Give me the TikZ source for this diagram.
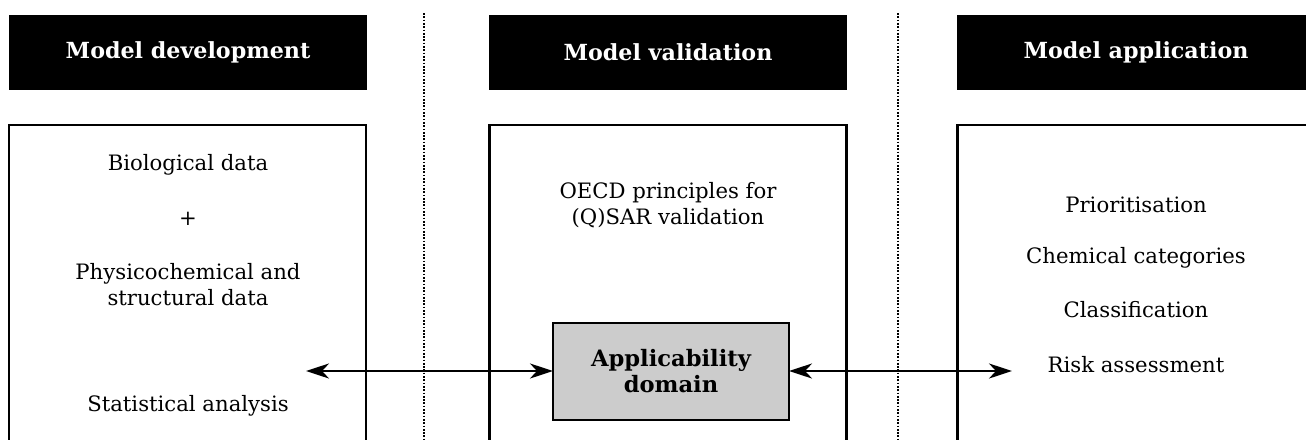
\documentclass[tikz,border=0pt]{standalone}
\usepackage{fontspec}
\setmainfont{DejaVu Serif}
\usetikzlibrary{arrows.meta}

\begin{document}
\begin{tikzpicture}[x=0.5pt,y=-0.5pt,
  txt/.style={font=\fontsize{10.6}{13}\selectfont, align=center, inner sep=0pt},
  header/.style={fill=black, text=white, font=\fontsize{11.1}{13}\selectfont\bfseries,
    minimum width=179pt, minimum height=37.5pt, inner sep=0pt, outer sep=0pt},
  panel/.style={draw=black, line width=1.3pt, minimum width=178.5pt, minimum height=180pt,
    inner sep=0pt, outer sep=0pt, anchor=north},
  domainbox/.style={draw=black, line width=1.3pt, fill=gray!40, align=center,
    font=\fontsize{11.3}{13}\selectfont\bfseries, minimum width=118pt, minimum height=48.5pt,
    inner sep=0pt, outer sep=0pt},
  divider/.style={line width=1pt, line cap=butt, dash pattern=on 0.85pt off 0.8pt},
  link/.style={line width=1.3pt, {Stealth[length=11.5pt,width=7.5pt,inset=3.5pt]}-{Stealth[length=11.5pt,width=7.5pt,inset=3.5pt]}}
]
\useasboundingbox (0,0) rectangle (1306,439);
\clip (0,0) rectangle (1306,439);

% column dividers
\draw[divider] (424,13) -- (424,445);
\draw[divider] (898,13) -- (898,445);

% column headers
\node[header] (hdev) at (188,52.5) {Model development};
\node[header] (hval) at (668,52.5) {Model validation};
\node[header] (happ) at (1136,52.5) {Model application};

% column panels (open at the bottom edge)
\node[panel] (pdev) at (187.5,125) {};
\node[panel] (pval) at (668,125) {};
\node[panel] (papp) at (1136,125) {};

% development column
\node[txt] (bio)  at (188,165) {Biological data};
\node[txt] (plus) at (188,219) {+};
\node[txt] (phys) at (188,285) {Physicochemical and\\structural data};
\node[txt] (stat) at (188,406) {Statistical analysis};

% validation column
\node[txt] (oecd) at (668,205) {OECD principles for\\(Q)SAR validation};
\node[domainbox] (ad) at (671,371.5) {Applicability\\domain};

% application column
\node[txt] (prio)  at (1136,205) {Prioritisation};
\node[txt] (chem)  at (1136,258) {Chemical categories};
\node[txt] (clas)  at (1136,310) {Classification};
\node[txt] (risk)  at (1136,365) {Risk assessment};

% links between the columns
\coordinate (ldev) at (306,371);
\coordinate (rapp) at (1012,371);
\draw[link] (ldev) -- (ldev -| ad.west);
\draw[link] (ad.east |- rapp) -- (rapp);
\end{tikzpicture}
\end{document}
